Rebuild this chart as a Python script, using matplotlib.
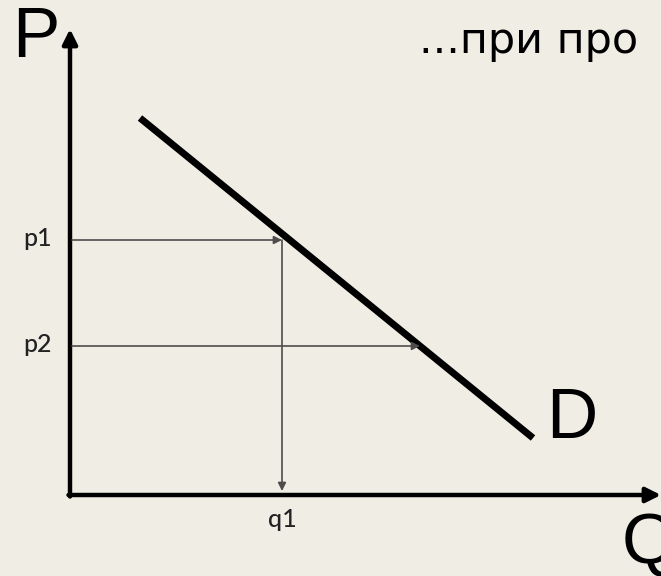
import matplotlib.pyplot as plt

# demand curve D (arbitrary units)
demand_q = [7.0, 46.3]
demand_p = [37.7, 5.7]

# price levels and where their arrows stop
price_levels = [25.5, 14.9]
price_labels = ["p1", "p2"]
price_arrow_ends = [21.2, 35.0]

q1_value = 21.2
q1_label = "q1"

axis_labels = ["P", "Q"]
curve_label = "D"
caption = "...при про"

bg = "#F0EDE5"

fig = plt.figure(figsize=(6.61, 5.76), dpi=100, facecolor=bg)
ax = fig.add_axes([0, 0, 1, 1])
ax.set_facecolor(bg)
ax.set_xlim(-7.0, 59.1)
ax.set_ylim(-8.1, 49.5)
ax.axis("off")

# axes with arrows
axis_kw = dict(arrowstyle="-|>", lw=3.2, color="black", mutation_scale=22,
               shrinkA=0, shrinkB=0)
ax.annotate("", xy=(0, 46.6), xytext=(0, -0.15), arrowprops=axis_kw)
ax.annotate("", xy=(59.1, 0), xytext=(-0.15, 0), arrowprops=axis_kw)

# demand
ax.plot(demand_q, demand_p, color="black", lw=5, solid_capstyle="butt")

# guide arrows
small = ["Lato", "DejaVu Sans"]
thin_kw = dict(arrowstyle="-|>", lw=1.2, color="#4d4d4d", mutation_scale=12,
               shrinkA=0, shrinkB=0)
for p, end, lab in zip(price_levels, price_arrow_ends, price_labels):
    ax.annotate("", xy=(end, p), xytext=(0.2, p), arrowprops=thin_kw)
    ax.text(-1.8, p - 0.55, lab, ha="right", va="baseline", fontsize=18,
            family=small, color="#222222", fontweight="medium")
ax.annotate("", xy=(q1_value, 0.4), xytext=(q1_value, price_levels[0]),
            arrowprops=thin_kw)
ax.text(q1_value, -3.2, q1_label, ha="center", va="baseline", fontsize=18,
        family=small, color="#222222", fontweight="medium")

big = ["Liberation Sans", "DejaVu Sans"]
ax.text(-5.8, 43.8, axis_labels[0], ha="left", va="baseline", fontsize=51,
        family=big)
ax.text(55.15, -6.8, axis_labels[1], ha="left", va="baseline", fontsize=51,
        family=big)
ax.text(47.6, 5.7, curve_label, ha="left", va="baseline", fontsize=51,
        family=big)
ax.text(34.9, 44.2, caption, ha="left", va="baseline", fontsize=31,
        family=["DejaVu Sans"])

fig.savefig("out.png", dpi=100, facecolor=bg)
